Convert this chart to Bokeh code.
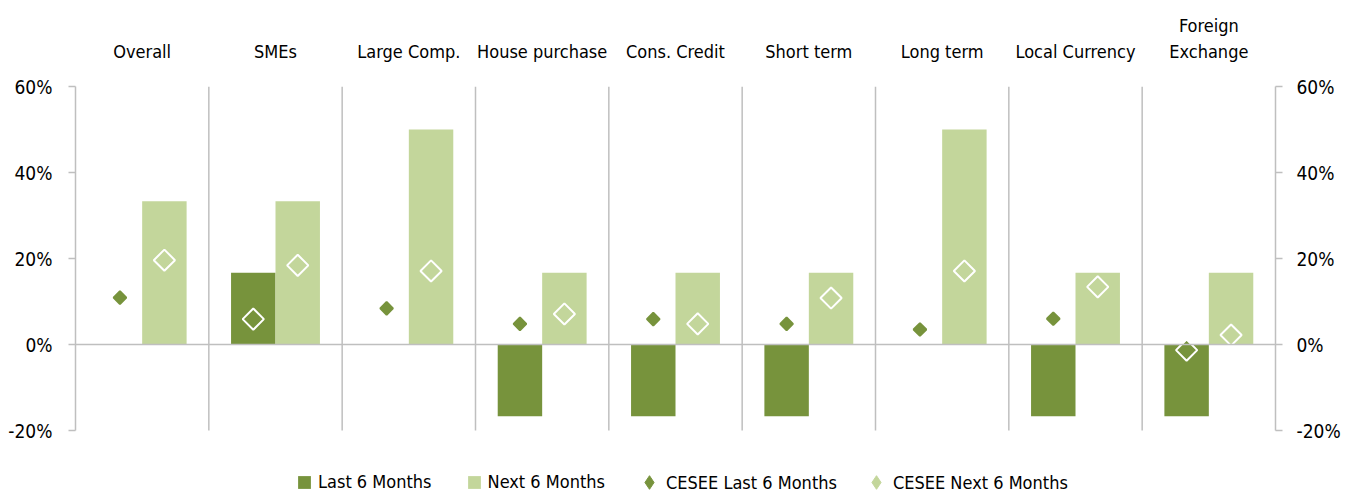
import numpy as np
from bokeh.plotting import figure
from bokeh.models import (ColumnDataSource, FactorRange, Range1d, LinearAxis,
                          NumeralTickFormatter, FixedTicker, Span, Legend, LegendItem)
from bokeh.transform import dodge
from bokeh.embed import file_html
from bokeh.resources import INLINE

# ---- data ----
categories = ["Overall", "SMEs", "Large Comp.", "House purchase", "Cons. Credit",
              "Short term", "Long term", "Local Currency", "Foreign\nExchange"]
last_6m = [0.0, 0.1667, 0.0, -0.1667, -0.1667, -0.1667, 0.0, -0.1667, -0.1667]
next_6m = [0.3333, 0.3333, 0.5, 0.1667, 0.1667, 0.1667, 0.5, 0.1667, 0.1667]
cesee_last = [0.109, 0.059, 0.084, 0.048, 0.059, 0.048, 0.035, 0.060, -0.013]
cesee_next = [0.196, 0.184, 0.171, 0.071, 0.048, 0.108, 0.171, 0.134, 0.022]
y_ticks = [-0.2, 0.0, 0.2, 0.4, 0.6]

# ---- style ----
DARK = "#77933C"
LIGHT = "#C3D69B"
GRID = "#BFBFBF"
FONT = "DejaVu Sans Condensed, Roboto Condensed, Open Sans Condensed, Roboto, sans-serif"

Y_MIN, Y_MAX = y_ticks[0], y_ticks[-1]
AXIS_PX = 344          # pixel height of the -20%..60% axis
LEGEND_PX = 65         # room below the axis for the legend
y_start = Y_MIN - LEGEND_PX * (Y_MAX - Y_MIN) / AXIS_PX

inside = [(l != 0 and np.sign(c) == np.sign(l) and abs(c) < abs(l))
          for c, l in zip(cesee_last, last_6m)]

src = ColumnDataSource(dict(
    cat=categories, last=last_6m, nxt=next_6m, cl=cesee_last, cn=cesee_next,
    cl_size=[15 if i else 9 for i in inside],
    cl_line=["white" if i else DARK for i in inside],
))

p = figure(x_range=FactorRange(*categories, range_padding=0),
           y_range=Range1d(y_start, Y_MAX),
           frame_width=1200, frame_height=AXIS_PX + LEGEND_PX,
           output_backend="svg", toolbar_location=None,
           x_axis_location="above",
           min_border_left=75, min_border_right=80, min_border_top=86, min_border_bottom=0)
p.outline_line_color = None
p.xgrid.visible = False
p.ygrid.visible = False
p.background_fill_color = "white"
p.border_fill_color = "white"

# top category axis
xa = p.xaxis[0]
xa.axis_line_color = None
xa.major_tick_line_color = None
xa.major_label_text_font = FONT
xa.major_label_text_font_size = "18px"
xa.major_label_text_color = "#000000"
xa.major_label_standoff = 19
xa.major_label_orientation = "horizontal"

# left axis
ya = p.yaxis[0]
ya.ticker = FixedTicker(ticks=y_ticks)
ya.formatter = NumeralTickFormatter(format="0%")
# right axis
yr = LinearAxis(ticker=FixedTicker(ticks=y_ticks), formatter=NumeralTickFormatter(format="0%"))
p.add_layout(yr, "right")
for ax in (ya, yr):
    ax.bounds = (Y_MIN, Y_MAX)
    ax.axis_line_color = GRID
    ax.axis_line_width = 1.5
    ax.major_tick_line_color = GRID
    ax.major_tick_line_width = 1.5
    ax.major_tick_out = 7
    ax.major_tick_in = 0
    ax.minor_tick_line_color = None
    ax.major_label_text_font = FONT
    ax.major_label_text_font_size = "19px"
    ax.major_label_text_color = "#000000"
ya.major_label_standoff = 16
yr.major_label_standoff = 14

# separators and zero line
bounds_x = list(range(1, len(categories)))
p.segment(x0=bounds_x, y0=Y_MIN, x1=bounds_x, y1=Y_MAX, line_color=GRID, line_width=1.5)
p.add_layout(Span(location=0, dimension="width", line_color=GRID, line_width=1.5))

r_last = p.vbar(x=dodge("cat", -1/6, range=p.x_range), top="last", bottom=0, width=1/3,
                source=src, fill_color=DARK, line_color=None)
r_next = p.vbar(x=dodge("cat", 1/6, range=p.x_range), top="nxt", bottom=0, width=1/3,
                source=src, fill_color=LIGHT, line_color=None)
r_cl = p.scatter(x=dodge("cat", -1/6, range=p.x_range), y="cl", source=src, marker="square",
                 angle=np.pi/4, size="cl_size", fill_color=DARK, line_color="cl_line", line_width=2)
r_cn = p.scatter(x=dodge("cat", 1/6, range=p.x_range), y="cn", source=src, marker="square",
                 angle=np.pi/4, size=15, fill_color=LIGHT, line_color="white", line_width=2)

# legend-only diamond glyphs: same data, shifted far outside the visible x range
OFFSCREEN = 100
lg_cl = p.scatter(x=dodge("cat", OFFSCREEN, range=p.x_range), y="cl", source=src,
                  marker="diamond", fill_color=DARK, line_color=DARK, line_width=1)
lg_cn = p.scatter(x=dodge("cat", OFFSCREEN, range=p.x_range), y="cn", source=src,
                  marker="diamond", fill_color=LIGHT, line_color=LIGHT, line_width=1)

common = dict(orientation="horizontal", padding=0, margin=0, border_line_color=None,
              background_fill_alpha=0, label_text_font=FONT, label_text_font_size="18px",
              label_text_color="#000000")
legend_bars = Legend(items=[LegendItem(label="Last 6 Months", renderers=[r_last]),
                            LegendItem(label="Next 6 Months", renderers=[r_next])],
                     location=(221, 3), glyph_width=16, glyph_height=16,
                     label_standoff=6, spacing=34, **common)
legend_marks = Legend(items=[LegendItem(label="CESEE Last 6 Months", renderers=[lg_cl]),
                             LegendItem(label="CESEE Next 6 Months", renderers=[lg_cn])],
                      location=(557, -4), glyph_width=34, glyph_height=34,
                      label_standoff=0, spacing=22, **common)
p.add_layout(legend_bars)
p.add_layout(legend_marks)

open("out.html", "w").write(file_html(p, INLINE))
